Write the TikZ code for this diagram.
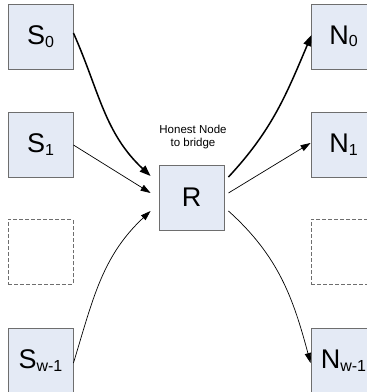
\documentclass[tikz,border=0pt]{standalone}
\usepackage{fontspec}
\setmainfont{Liberation Sans}
\usetikzlibrary{arrows.meta}
\definecolor{boxfill}{RGB}{228,234,245}
\definecolor{boxline}{RGB}{110,110,110}
\newcommand{\bigsub}[2]{#1\raisebox{-2.5pt}{\fontsize{16}{16}\selectfont #2}}
\begin{document}
\begin{tikzpicture}[x=1pt,y=1pt,
  nodebox/.style={draw=boxline,line width=0.9pt,fill=boxfill,minimum width=65pt,minimum height=65pt,
    inner sep=0pt,font=\fontsize{27}{27}\selectfont},
  emptybox/.style={draw=boxline,line width=0.9pt,dash pattern=on 4pt off 2pt,minimum width=65pt,minimum height=65pt,inner sep=0pt},
  heavy/.style={line width=1.5pt,-{Triangle[length=11pt,width=8pt]}},
  light/.style={line width=0.7pt,-{Triangle[length=10pt,width=6.5pt]}}]
\useasboundingbox (0,0) rectangle (367,392);
% senders on the left
\node[nodebox] (s0) at (40.5,355.5) {\bigsub{S}{0}};
\node[nodebox] (s1) at (40.5,247.5) {\bigsub{S}{1}};
\node[emptybox] (sd) at (40.5,140) {};
\node[nodebox] (sw) at (40.5,31.5) {\bigsub{S}{w-1}};
% receivers on the right
\node[nodebox] (n0) at (343.5,355.5) {\bigsub{N}{0}};
\node[nodebox] (n1) at (343.5,247.5) {\bigsub{N}{1}};
\node[emptybox] (nd) at (343.5,140) {};
\node[nodebox] (nw) at (343.5,31.5) {\bigsub{N}{w-1}};
% relay in the middle
\node[nodebox] (r) at (191.5,194.5) {R};
\node[font=\fontsize{11.5}{13}\selectfont,align=center] (lbl) at (193,255) {Honest Node\\to bridge};
% incoming connectors
\draw[heavy] ([yshift=3.5pt]s0.east) to[out=-66,in=137] ([xshift=-8pt,yshift=21.5pt]r.west);
\draw[light] ([yshift=-0.5pt]s1.east) -- ([xshift=-8pt,yshift=4.5pt]r.west);
\draw[light] ([yshift=-2.5pt]sw.east) to[out=73,in=-137] ([xshift=-8pt,yshift=-13.5pt]r.west);
% outgoing connectors
\draw[heavy] ([xshift=4pt,yshift=20.5pt]r.east) to[out=47,in=-113] ([xshift=1pt,yshift=1.5pt]n0.west);
\draw[light] ([xshift=4pt,yshift=4.5pt]r.east) -- ([yshift=1.5pt]n1.west);
\draw[light] ([xshift=4pt,yshift=-13.5pt]r.east) to[out=-42,in=105] ([yshift=-2.5pt]nw.west);
\end{tikzpicture}
\end{document}
